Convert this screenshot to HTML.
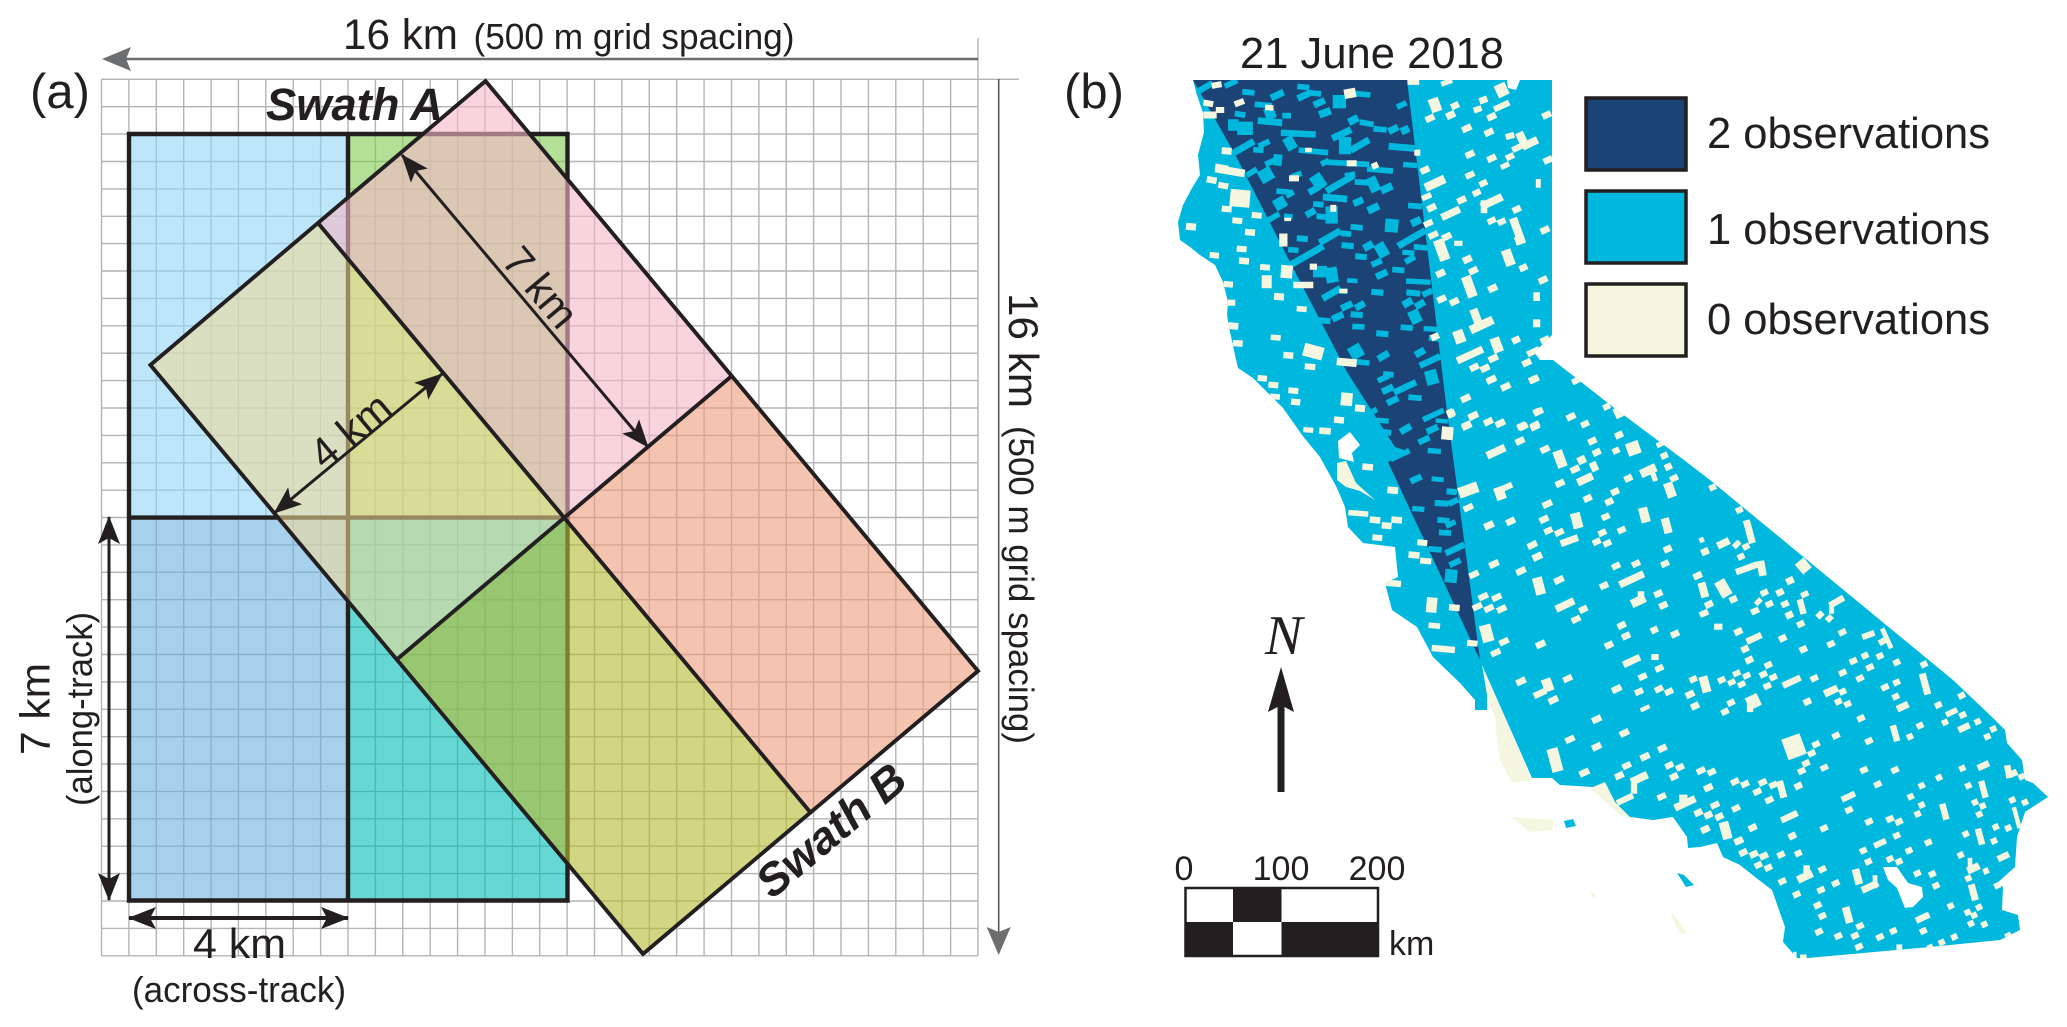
<!DOCTYPE html>
<html lang="en">
<head>
<meta charset="utf-8">
<title>Swath geometry and observation map</title>
<style>
html,body{margin:0;padding:0;background:#fff;width:2067px;height:1027px;overflow:hidden}
svg{display:block;position:absolute;left:0;top:0}
text{font-family:"Liberation Sans",sans-serif;fill:#231f20}
</style>
</head>
<body>
<svg xmlns="http://www.w3.org/2000/svg" width="2067" height="1027" viewBox="0 0 2067 1027">
<defs>
<marker id="blackHead" markerUnits="userSpaceOnUse" viewBox="0 0 28 22" refX="27" refY="11" markerWidth="28" markerHeight="22" orient="auto-start-reverse">
<path d="M28,11 L0,0 L6,11 L0,22 Z" fill="#231f20"/>
</marker>
<clipPath id="landClip"><polygon points="1193,80 1552,80 1552,335 1542,345 1534,352 1540,360 1553,360 1613,407 1680,457 1710,480 1953,680 1993,718 2005,730 2007,743 2022,760 2025,780 2033,783 2048,797 2025,812 2017,837 2015,867 1997,883 2003,887 2002,910 2018,915 2020,930 2000,940 1930,947 1808,958 1797,958 1783,942 1785,927 1772,890 1755,877 1740,865 1723,857 1717,843 1700,847 1688,848 1687,837 1673,817 1653,820 1630,817 1615,802 1605,782 1593,787 1560,785 1552,778 1532,778 1482,665 1487,695 1487,710 1475,710 1475,700 1460,683 1433,657 1417,627 1392,610 1385,583 1398,577 1395,547 1363,543 1348,527 1345,507 1337,488 1320,457 1302,435 1295,425 1283,408 1270,395 1253,378 1238,368 1235,355 1230,332 1227,315 1228,302 1223,282 1215,265 1200,255 1190,247 1180,240 1178,222 1183,205 1192,188 1200,175 1198,155 1204,132 1203,113 1197,95"/></clipPath>
</defs>

<g id="panelA">
<path id="gridLines" fill="none" stroke="#b4b4b4" stroke-width="1.4"/>

<g>
<rect x="129" y="134" width="219" height="383.6" fill="#91d5f7" fill-opacity=".6"/>
<rect x="348" y="134" width="219.5" height="383.6" fill="#80ca52" fill-opacity=".6"/>
<rect x="129" y="517.6" width="219" height="382.9" fill="#6bb1df" fill-opacity=".6"/>
<rect x="348" y="517.6" width="219.5" height="382.9" fill="#00bcb4" fill-opacity=".6"/>
<path d="M129,134H567.5V900.5H129Z M348,134V900.5 M129,517.6H567.5" fill="none" stroke="#231f20" stroke-width="4.4"/>
</g>

<g>
<polygon points="485.5,81 318,223 564.5,517.6 731.7,376" fill="#f5b7c8" fill-opacity=".6"/>
<polygon points="318,223 150.4,365 396.8,659.5 564.5,517.6" fill="#f3da98" fill-opacity=".57"/>
<polygon points="731.7,376 564.5,517.6 810.5,812.5 978,671" fill="#ed9d7b" fill-opacity=".6"/>
<polygon points="564.5,517.6 396.8,659.5 643,954 810.5,812.5" fill="#b6bb35" fill-opacity=".62"/>
<path d="M485.5,81 L150.4,365 L643,954 L978,671 Z M318,223 L810.5,812.5 M731.7,376 L396.8,659.5" fill="none" stroke="#231f20" stroke-width="3.9" stroke-linejoin="miter"/>
</g>

<g>
<path d="M978,38V79 M978,79.3H1019" stroke="#b4b4b4" stroke-width="1.4" fill="none"/>
<line x1="978" y1="59" x2="125" y2="59" stroke="#6d6e70" stroke-width="2.4"/>
<polygon points="102,59 131,47 126,59 131,71" fill="#6d6e70"/>
<text x="343" y="49" font-size="43" textLength="115" lengthAdjust="spacingAndGlyphs">16 km</text>
<text x="473.5" y="49" font-size="36" textLength="321" lengthAdjust="spacingAndGlyphs">(500 m grid spacing)</text>
</g>

<g>
<line x1="998.7" y1="79" x2="998.7" y2="932" stroke="#58595b" stroke-width="1.6"/>
<polygon points="998.7,955 986.7,927 998.7,932 1010.7,927" fill="#6d6e70"/>
<text transform="translate(1009,293) rotate(90)" font-size="42" textLength="115" lengthAdjust="spacingAndGlyphs">16 km</text>
<text transform="translate(1009,426) rotate(90)" font-size="35" textLength="318" lengthAdjust="spacingAndGlyphs">(500 m grid spacing)</text>
</g>

<text x="30" y="108" font-size="49">(a)</text>
<text x="266" y="120" font-size="45" font-weight="bold" font-style="italic" textLength="177" lengthAdjust="spacingAndGlyphs">Swath A</text>
<text transform="translate(772,900) rotate(-40)" font-size="45" font-weight="bold" font-style="italic" textLength="180" lengthAdjust="spacingAndGlyphs">Swath B</text>

<line x1="402" y1="155" x2="648" y2="447" stroke="#231f20" stroke-width="3" marker-start="url(#blackHead)" marker-end="url(#blackHead)"/>
<text transform="translate(541,287) rotate(50)" x="0" y="15" font-size="42" text-anchor="middle">7 km</text>
<line x1="442" y1="374" x2="274.4" y2="513" stroke="#231f20" stroke-width="3" marker-start="url(#blackHead)" marker-end="url(#blackHead)"/>
<text transform="translate(350,430) rotate(-40)" x="0" y="15" font-size="42" text-anchor="middle">4 km</text>

<line x1="109" y1="517" x2="109" y2="900" stroke="#231f20" stroke-width="3" marker-start="url(#blackHead)" marker-end="url(#blackHead)"/>
<text transform="translate(49.5,755) rotate(-90)" font-size="42" textLength="92" lengthAdjust="spacingAndGlyphs">7 km</text>
<text transform="translate(92,806) rotate(-90)" font-size="36" textLength="194" lengthAdjust="spacingAndGlyphs">(along-track)</text>

<line x1="129" y1="918" x2="348" y2="918" stroke="#231f20" stroke-width="4" marker-start="url(#blackHead)" marker-end="url(#blackHead)"/>
<text x="193" y="958" font-size="42" textLength="93" lengthAdjust="spacingAndGlyphs">4 km</text>
<text x="132" y="1002" font-size="36" textLength="214" lengthAdjust="spacingAndGlyphs">(across-track)</text>
</g>

<g id="panelB">
<text x="1064" y="108" font-size="49">(b)</text>
<text x="1240" y="68" font-size="44" textLength="264" lengthAdjust="spacingAndGlyphs">21 June 2018</text>

<g>
<polygon points="1482,665 1532,780 1512,783 1500,760 1497,740 1495,717 1487,700" fill="#f5f6e0"/>
<polygon points="1590,788 1605,780 1634,820 1620,815" fill="#f5f6e0"/>
<polygon points="1512,817 1553,820 1553,830 1530,832 1520,824" fill="#f5f6e0"/>
<polygon points="1590,890 1596,896 1592,898" fill="#f5f6e0"/>
<polygon points="1670,913 1674,915 1687,933 1680,934" fill="#f5f6e0"/>
<polygon points="1677,873 1684,875 1694,885 1686,887" fill="#00b7de"/>
<polygon points="1564,821 1573,819 1576,826 1566,828" fill="#00b7de"/>
<polygon points="1193,80 1552,80 1552,335 1542,345 1534,352 1540,360 1553,360 1613,407 1680,457 1710,480 1953,680 1993,718 2005,730 2007,743 2022,760 2025,780 2033,783 2048,797 2025,812 2017,837 2015,867 1997,883 2003,887 2002,910 2018,915 2020,930 2000,940 1930,947 1808,958 1797,958 1783,942 1785,927 1772,890 1755,877 1740,865 1723,857 1717,843 1700,847 1688,848 1687,837 1673,817 1653,820 1630,817 1615,802 1605,782 1593,787 1560,785 1552,778 1532,778 1482,665 1487,695 1487,710 1475,710 1475,700 1460,683 1433,657 1417,627 1392,610 1385,583 1398,577 1395,547 1363,543 1348,527 1345,507 1337,488 1320,457 1302,435 1295,425 1283,408 1270,395 1253,378 1238,368 1235,355 1230,332 1227,315 1228,302 1223,282 1215,265 1200,255 1190,247 1180,240 1178,222 1183,205 1192,188 1200,175 1198,155 1204,132 1203,113 1197,95" fill="#00b7de"/>
<polygon points="1193,80 1407,80 1447,412 1480,660 1388,462 1410,452 1395,447 1347,372 1290,262 1237,158" fill="#1b4376"/>
<polygon points="1337,463 1346,461 1356,483 1375,500 1360,491 1346,487 1337,480" fill="#f5f6e0"/>
<polygon points="1338,441 1350,432 1360,445 1352,453 1354,462 1339,458" fill="#fff"/>
<path id="cyanTiles" fill="#00b7de" clip-path="url(#landClip)"/>
<path id="creamTiles" fill="#f5f6e0" clip-path="url(#landClip)"/>
<polygon points="1507,80 1520,80 1516,90 1508,88" fill="#fff"/>
<polygon points="1883,867 1897,867 1908,883 1922,887 1923,897 1913,907 1905,908 1897,888 1888,880" fill="#fff"/>
</g>

<g>
<g>
<rect x="1586" y="98" width="100" height="72" fill="#1b4376" stroke="#231f20" stroke-width="3.5"/>
<text x="1707" y="148" font-size="43.5" textLength="283" lengthAdjust="spacingAndGlyphs">2 observations</text>
</g>
<g>
<rect x="1586" y="191" width="100" height="72" fill="#00b7de" stroke="#231f20" stroke-width="3.5"/>
<text x="1707" y="244" font-size="43.5" textLength="283" lengthAdjust="spacingAndGlyphs">1 observations</text>
</g>
<g>
<rect x="1586" y="284" width="100" height="72" fill="#f5f6e0" stroke="#231f20" stroke-width="3.5"/>
<text x="1707" y="334" font-size="43.5" textLength="283" lengthAdjust="spacingAndGlyphs">0 observations</text>
</g>
</g>

<g>
<text x="1265" y="654" font-size="56" font-style="italic" style="font-family:'Liberation Serif',serif">N</text>
<path d="M1277.5,792V707L1268,712L1281,667L1294,712L1284.5,707V792Z" fill="#231f20"/>
</g>

<g>
<rect x="1184.5" y="887" width="194.5" height="70" fill="#fff"/>
<rect x="1233" y="887" width="48.5" height="35" fill="#231f20"/>
<rect x="1184.5" y="922" width="48.5" height="35" fill="#231f20"/>
<rect x="1281.5" y="922" width="97.5" height="35" fill="#231f20"/>
<rect x="1185.5" y="888" width="192.5" height="68" fill="none" stroke="#231f20" stroke-width="2.5"/>
<text x="1184" y="880" font-size="34" text-anchor="middle">0</text>
<text x="1281" y="880" font-size="34" text-anchor="middle">100</text>
<text x="1377" y="880" font-size="34" text-anchor="middle">200</text>
<text x="1389" y="955" font-size="34">km</text>
</g>
</g>
</svg>

<script>
// Grid definition
var gridCells = 32;
var gridOriginX = 101.5, gridOriginY = 79.3, gridCell = 27.39;

// Tile lists: [centerX, centerY, length, thickness, angle] in 3x survey-sheet units;
// omitted values fall back to length 28, thickness 15, angle -25.
var sheetNorthOrigin = [1180, 75];
var sheetNorthCyan = [[70,40,60,16,-30],[153,25,40,15,-25],[205,52,35,15,5],[292,60,40,18,-25],[370,36,35,15,5],[372,62,40,18,-25],[405,55,35,15,5],[418,83,35,18,-25],[478,80,38,35,0],[540,57,60,15,5],[250,90,50,15,5],[270,115,30,30,-20],[435,113,35,20,-20],[520,135,30,20,-25],[180,118,30,15,10],[160,150,30,30,0],[195,160,45,35,0],[270,140,70,18,5],[320,122,25,15,0],[560,145,40,15,10],[600,163,38,15,5],[640,163,30,18,-25],[675,165,25,20,-25],[665,90,30,15,-25],[355,176,100,17,3],[485,177,60,18,-25],[190,217,70,18,-30],[252,206,35,15,-25],[330,205,30,35,-30],[235,225,30,15,5],[495,212,35,45,0],[540,210,60,18,-30],[665,217,75,18,5],[400,229,85,15,5],[293,255,25,30,5],[270,262,30,15,-25],[435,262,25,15,-25],[505,265,120,15,3],[600,285,75,15,5],[690,270,40,14,5],[258,300,40,35,-30],[215,292,35,15,-30],[350,300,30,15,-20],[415,320,35,40,-35],[480,325,90,18,-30],[510,300,30,15,-10],[400,345,30,18,-30],[580,328,30,40,-25],[620,340,35,20,-25],[545,322,40,15,3],[310,350,40,15,5],[300,385,35,30,-30],[330,357,25,15,-30],[465,369,70,18,5],[535,380,30,18,-25],[415,388,30,15,5],[392,413,30,18,-30],[580,400,35,20,-25],[705,393,40,15,5],[455,420,35,45,0],[280,427,40,15,-30],[425,425,30,15,5],[325,425,25,15,5],[635,452,38,35,5],[530,457,35,15,5],[708,440,30,20,-25],[450,485,70,18,-30],[498,476,30,15,5],[695,490,90,18,-30],[367,491,32,16,5],[503,512,35,16,5],[565,513,30,20,-30],[605,525,32,38,-30],[722,517,40,15,5],[340,525,30,15,5],[380,542,110,18,-30],[685,533,35,14,5],[543,545,33,16,5],[690,553,32,16,-30],[590,563,32,16,-25],[420,590,40,30,0],[455,600,35,40,-10],[605,598,35,18,-25],[655,585,35,15,5],[517,617,30,12,3],[715,620,70,14,3],[455,655,60,18,-30],[592,652,35,16,5],[700,654,40,16,5],[742,653,30,16,-25],[487,648,30,14,5],[683,683,30,20,-30],[720,688,30,18,-30],[500,693,35,18,-25],[540,692,30,18,-30],[705,725,32,35,-25],[473,725,35,18,-25],[530,719,35,16,5],[433,737,35,16,5],[535,755,35,15,3],[680,758,35,15,5],[752,762,40,14,3],[607,776,35,16,5],[765,790,35,15,5],[528,830,38,35,-30],[720,832,30,18,-30]];
var sheetNorthCream = [[110,30,30,14,-10],[85,85,30,14,10],[120,105,25,14,0],[90,120,40,16,0],[140,228,30,16,5],[150,288,90,18,10],[125,278,40,14,10],[95,315,30,15,10],[130,332,30,14,10],[180,370,60,40,5],[140,402,30,14,5],[172,437,30,14,5],[230,421,30,14,5],[210,472,30,15,5],[33,455,30,16,5],[185,522,30,14,5],[103,541,28,14,5],[192,558,30,15,5],[255,577,30,14,5],[320,590,35,30,5],[260,620,30,30,0],[370,630,60,15,0],[145,628,28,14,5],[297,665,30,16,5],[155,683,22,14,0],[160,753,30,16,5],[287,788,30,13,5],[173,805,30,15,5],[365,702,30,13,5],[325,841,30,15,5],[390,875,32,14,5],[400,830,60,30,15],[247,910,28,14,5],[280,930,30,14,5],[340,947,30,14,5],[285,965,30,13,5],[347,981,28,15,5],[500,973,35,30,5],[477,1035,30,15,5],[540,1000,30,16,5],[500,862,60,18,5],[435,1068,35,15,5],[385,1065,30,12,5],[510,55,35,22,-10],[178,83,30,14,-20],[268,98,25,13,5],[385,225,20,10,0],[515,265,30,14,0],[585,272,20,14,-25],[342,310,30,14,0],[310,495,25,30,0],[400,575,22,14,0],[323,433,20,8,0],[460,400,18,16,0],[490,648,25,10,0],[700,22,35,12,0],[800,22,35,12,-20],[765,90,32,32,-20],[825,92,25,15],[812,120,28,16],[750,130,28,15],[910,75,25,15,-20],[893,103,25,14,-20],[965,45,35,30],[965,93,50,14],[935,125],[860,160,30,15],[927,172],[990,183,26,14,-15],[1025,190,25,30],[1050,205,50,18],[1015,217,40,14],[870,238],[935,250],[990,245,26,14],[975,272,28,12],[712,233,18,14,0],[735,285],[870,300,28,14],[765,325,65,20],[910,325,25,14],[890,353,25,14],[845,375],[740,365,30,13],[755,398],[1075,325,15,20,0],[935,380,70,18],[912,395,20,30,0],[1010,403,26,15],[812,415,60,17],[935,437,26,14],[965,440,25,14],[1010,460,25,50,-20],[1020,495,30,20,-20],[745,445,28,14],[760,480,30,14],[800,485,30,15],[835,505,25,12,0],[785,525,32,50,-20],[862,553,28,16],[985,548,30,38,-20],[1030,578,25,15],[880,587],[782,595,28,16],[868,635,30,50,-20],[938,640,28,16],[1070,665,20,20,0],[785,672],[823,680],[905,750,75,20],[890,730,25,45,-20],[1070,745,22,18,0],[838,785,32,30,-20],[765,785,25,15],[950,810,30,35,-20],[1008,795,25,15],[870,840,85,17],[1060,830,40,14],[940,850,30,15],[883,877],[915,880],[1040,863],[935,913],[977,935],[1060,913],[857,970],[880,1022,30,15],[812,1015,20,20],[925,1040,28,14],[962,1045,28,14],[1030,1055,28,14],[860,1050],[1070,1010,20,14],[1065,1050,28,14],[805,1070,28,12],[1095,465],[1089,615],[1095,795],[1104,255],[1100,120]];

var sheetCentralOrigin = [1320, 350];
var sheetCentralCyan = [[125,37,45,15,5],[190,18,35,18,-30],[330,33,65,17,-25],[300,8,30,18,-30],[190,85,35,15,-25],[205,73,30,15,5],[255,112,70,17,-25],[203,118,35,18,-25],[335,82,35,38,-15],[218,152,35,17,-25],[285,143,38,15,5],[340,195,65,15,-25],[188,212,35,14,5],[195,247,35,16,5],[257,237,35,18,-30],[337,238,35,17,-25],[365,213,35,12,5],[312,270,35,16,-25],[343,303,38,14,5],[288,387,35,17,-25],[353,388,35,13,5],[395,425,30,16,5],[365,460,40,16,3],[400,455,30,16,-25],[295,477,35,14,5],[370,511,35,15,5],[392,522,30,14,-25],[375,548,35,15,3],[345,598,38,15,5],[405,597,60,17,-25],[405,638,35,16,-25],[393,678,35,35,5],[240,315,60,15,-25],[155,187,35,15,-30]];
var sheetCentralCream = [[143,351,32,15,5],[218,421,32,16,5],[115,490,60,13,5],[165,510,32,15,5],[230,510,32,15,5],[200,527,30,15,5],[172,563,30,14,5],[307,578,30,14,5],[282,615,33,15,5],[317,633,34,14,5],[218,700,50,15,5],[335,765,32,35,5],[403,773,32,15,5],[343,827,35,13,5],[370,897,70,15,5],[457,880,32,14,5],[600,273],[528,305,60,18],[675,298],[720,327,30,40,-20],[785,330,25,18],[765,358],[822,350,22,22],[795,388,50,18],[720,400],[925,385,25,15],[985,362,50,20],[1000,375,16,30,-20],[1045,350,22,15],[1062,385,25,14],[1050,420,28,35,-20],[885,425,25,15],[868,455,25,15],[803,445,26,15],[682,462,30,15],[445,420,60,25,-20],[540,430,30,30,-20],[558,412,40,14],[445,473,30,14],[507,526,30,16],[572,514],[672,508],[685,542,26,14],[718,547,28,14],[770,512,30,36,-15],[748,572,55,16,-20],[973,495,28,35,-15],[857,500,25,14],[905,540,25,14],[847,548,25,14],[830,575,25,14],[862,580,25,14],[1040,527,25,36,-15],[1043,597,25,15],[637,585,30,15],[652,620,30,16],[522,642,30,15],[603,663,30,15],[888,648,26,14],[948,641,26,14],[1035,641,25,14],[935,688,80,17],[852,707,26,15],[462,673,30,14],[657,708,30,40,-15],[717,690,30,15],[490,740,30,14],[530,742,30,14],[472,770,30,14],[507,775,30,14],[545,777,30,14],[735,765,60,17],[790,778,26,15],[768,808,28,14],[955,753,45,20],[963,740,20,25,0],[1015,731,26,15],[1030,766,26,15],[905,826,26,15],[1003,840,22,15],[1065,852,26,15],[918,858,26,15],[500,850,35,40,-15],[552,875,30,14],[527,908,30,14],[662,883,30,15],[867,885,26,15],[935,933,55,16],[1005,921,22,14,0],[1018,955,26,14],[968,980,26,14],[603,994,30,15],[743,986,28,14],[683,1005,30,30,-20],[660,1030,40,15],[700,1050,30,15],[890,1017,30,15],[957,1025,26,14],[1017,1017,26,14],[1047,1025,26,14],[975,1075,30,10],[768,92,25,14],[860,170,22,14],[895,188,25,25],[753,200],[795,222,25,14],[897,255,25,15],[817,273,26,15],[940,295,40,30,-20],[888,302,22,14],[830,307,25,15],[1020,283,22,12],[1033,317,22,14],[557,110,30,15],[513,90],[643,88],[437,145,30,15],[655,185,30,15],[605,228],[645,230],[505,215],[540,220],[440,228,30,15],[460,198,30,15],[393,190,25,15],[382,250,35,30,5]];

var sheetSouthCoastOrigin = [1480, 560];
var sheetScale = 3;
var sheetSouthCoastCream = [[350,478,30,15],[433,519,30,15],[270,538,30,14],[350,560,30,15],[225,600,35,55,-15],[313,638,32,15],[495,590,30,15],[547,565],[440,617,28,14],[418,647],[568,616,26,14],[600,622,26,14],[582,650,26,15],[663,632,28,14],[695,636,26,14],[478,655,55,18],[462,682,20,30,0],[765,665,26,14],[795,672,26,14],[848,667,26,14],[880,675,26,14],[832,695,26,14],[685,683],[545,710,28,14],[868,720,26,14],[615,730,70,17],[610,720,26,25,0],[435,718,55,14],[768,745,26,14],[705,735,28,14],[655,758,26,15],[685,765,26,15],[718,770,26,15],[676,808],[737,812,30,40,-15],[818,803,26,15],[775,843,26,15],[790,878,26,14],[822,883,26,14],[852,888,26,14],[653,47],[670,90,25,35,-15],[730,85,35,40,-30],[760,118,24,15],[687,133,26,15],[672,160,28,14],[835,125,24,12,-45],[853,98,24,14],[868,132,24,14],[825,153,26,14],[715,200,26,14,0],[775,215,26,15],[822,235,50,15],[795,267,24,15],[808,300,25,15],[865,315,24,14],[850,343,24,14],[880,352,24,14],[862,378,24,14],[725,360,24,14],[755,367,24,13],[770,340,24,13],[800,347,24,13],[785,373,24,13],[640,358,24,14],[675,373,28,38,-15],[630,403],[645,438,26,15],[753,428,24,14],[735,455,24,14],[820,425,40,30],[810,440,20,25,0],[800,25,70,15,-20],[845,25,24,35,-10]];

var sheetEastOrigin = [1700, 480];
var sheetEastCream = [[38,22,22,14],[118,90,22,14],[148,155,22,55,-15],[70,190,40,17],[110,193,25,13,-45],[138,200,22,14],[123,230,22,14],[15,215,24,16],[5,180,15,12],[310,258,35,30,-40],[270,302,24,16],[240,337,24,15],[255,372,24,14],[314,343,24,13],[305,380,20,35,-15],[268,405,24,16],[302,432,24,14],[410,365,50,15,-30],[395,385,15,25,0],[360,405,22,14,-45],[388,415,22,14,-45],[427,457,24,14],[393,492,24,14],[248,475,24,15],[310,508,24,15],[505,465,40,14,-20],[550,483,30,14,-30],[560,475,15,50,-25],[495,527,22,14],[540,528,22,14],[460,543,24,14],[510,562,24,14],[590,547,22,14],[428,578,24,14],[480,595,24,14],[672,553,22,14],[343,595,24,14],[555,622,24,14],[590,607,22,14],[275,605,60,15],[675,612,22,50,-15],[393,633,45,17],[428,635,22,14],[415,665,22,14],[443,672,22,14],[587,650,22,14],[322,665,24,15],[608,680,38,16],[715,675,22,14],[785,647,22,14],[755,697,38,13],[788,705,22,14],[735,727,20,14],[483,715,24,14],[792,743,38,15],[833,725,20,14],[880,747,20,14],[862,770,20,14],[660,737,22,14],[630,770,20,14],[585,760,20,38,-15],[408,767,24,14],[507,783,24,14],[348,793,24,14],[282,800,60,50,-20],[335,820,24,14],[318,850,24,14],[305,873,24,14],[373,863,24,13],[492,870,24,14],[585,870,24,14],[787,865,20,14],[850,857,38,15],[925,875,20,30,-10],[940,880,25,15],[965,890,20,14],[533,913,24,14],[665,917,20,14],[717,893,20,14],[805,917,20,14],[850,928,20,40,-15],[632,950,20,14],[665,975,20,14],[653,1002,20,14],[733,995,20,38,-15],[445,950,45,14],[447,990,24,14],[937,960,20,14],[975,967,20,14],[825,967,20,14],[848,978,20,14],[838,1003,20,14],[950,1013,14,50,-15],[268,1010,55,15],[295,918,24,15],[245,928,22,40,-15],[507,1025,24,14],[570,1017,24,14],[597,1025,24,14]];

var sheetSouthOrigin = [1700, 680];
var sheetSouthCream = [[75,450,24,38,-15],[15,448,24,15],[157,443,24,14],[372,445,24,14],[277,468,24,15],[118,483,26,14],[130,517,24,14],[160,523,24,14],[190,528,24,14],[243,524,24,14],[295,520,22,14],[175,555,24,14],[205,563,24,14],[540,490,40,14],[590,467,22,14],[490,512,22,14],[627,512,22,14],[685,487,22,14],[505,545,22,14],[570,537,22,14],[597,545,22,14],[367,568,24,14],[315,590,50,18],[320,575,20,30,0],[247,604,24,14],[407,610,24,14],[363,630,24,14],[290,643,24,14],[472,590,24,36,-15],[510,620,55,16],[525,605,15,30,0],[652,580,22,14],[697,582,22,14],[708,617,22,14],[797,462,20,14],[840,470,20,38,-15],[887,441,20,14],[925,444,20,14],[882,483,20,14],[910,530,38,15],[782,525,20,14],[820,565,40,17],[810,550,14,25,0],[858,573,18,14],[805,595,20,14],[820,637,22,38,-15],[892,617,20,14],[752,678,20,14],[353,676,24,14],[367,708,24,14],[443,705,24,38,-15],[668,713,45,15],[803,697,20,14],[837,682,20,14],[822,706,20,14],[813,731,20,14],[853,733,20,14],[480,738,24,14],[357,755,24,14],[415,768,24,14],[465,767,24,14],[477,800,24,14],[540,771,24,14],[580,753,22,14],[670,753,22,14],[598,805,18,18,0],[725,787,20,14],[763,771,20,14],[690,800,18,10],[925,767,20,14],[310,830,20,10,0],[285,825,10,15,0]];

function gridX(i) { return gridOriginX + i * gridCell; }
function gridY(j) { return gridOriginY + j * gridCell; }

var gridPath = '';
for (var g = 0; g <= gridCells; g++) {
  gridPath += 'M' + gridX(g).toFixed(1) + ',' + gridY(0).toFixed(1) + 'V' + gridY(gridCells).toFixed(1);
  gridPath += 'M' + gridX(0).toFixed(1) + ',' + gridY(g).toFixed(1) + 'H' + gridX(gridCells).toFixed(1);
}
document.getElementById('gridLines').setAttribute('d', gridPath);

function tilePath(origin, tiles, lengthFactor, thicknessFactor) {
  var d = '';
  for (var t = 0; t < tiles.length; t++) {
    var e = tiles[t];
    var cx = origin[0] + e[0] / sheetScale;
    var cy = origin[1] + e[1] / sheetScale;
    var hl = (e.length > 2 ? e[2] : 28) * lengthFactor / sheetScale / 2;
    var ht = (e.length > 3 ? e[3] : 15) * thicknessFactor / sheetScale / 2;
    var a = (e.length > 4 ? e[4] : -25) * Math.PI / 180;
    var ux = Math.cos(a), uy = Math.sin(a);
    var vx = -uy, vy = ux;
    d += 'M' + (cx - ux * hl - vx * ht).toFixed(1) + ',' + (cy - uy * hl - vy * ht).toFixed(1);
    d += 'L' + (cx + ux * hl - vx * ht).toFixed(1) + ',' + (cy + uy * hl - vy * ht).toFixed(1);
    d += 'L' + (cx + ux * hl + vx * ht).toFixed(1) + ',' + (cy + uy * hl + vy * ht).toFixed(1);
    d += 'L' + (cx - ux * hl + vx * ht).toFixed(1) + ',' + (cy - uy * hl + vy * ht).toFixed(1) + 'Z';
  }
  return d;
}

document.getElementById('cyanTiles').setAttribute('d',
  tilePath(sheetNorthOrigin, sheetNorthCyan, 1.05, 1.15) +
  tilePath(sheetCentralOrigin, sheetCentralCyan, 1.05, 1.15));
document.getElementById('creamTiles').setAttribute('d',
  tilePath(sheetNorthOrigin, sheetNorthCream, 1.0, 1.3) +
  tilePath(sheetCentralOrigin, sheetCentralCream, 1.0, 1.3) +
  tilePath(sheetSouthCoastOrigin, sheetSouthCoastCream, 0.97, 1.3) +
  tilePath(sheetEastOrigin, sheetEastCream, 0.97, 1.3) +
  tilePath(sheetSouthOrigin, sheetSouthCream, 0.97, 1.3));
</script>
</body>
</html>
